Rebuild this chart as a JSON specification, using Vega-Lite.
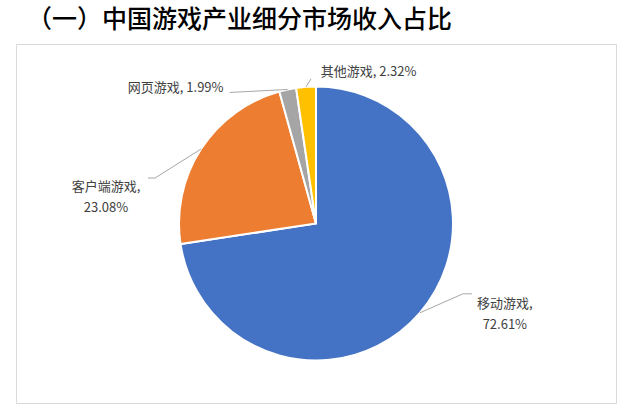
{
  "$schema": "https://vega.github.io/schema/vega-lite/v6.json",
  "width": 600,
  "height": 359,
  "autosize": {"type": "none"},
  "padding": {"left": 16, "top": 44, "right": 14, "bottom": 14},
  "background": "white",
  "config": {"view": {"stroke": "#d9d9d9", "strokeWidth": 1}, "font": "Noto Sans CJK SC"},
  "title": {
    "text": "（一）中国游戏产业细分市场收入占比",
    "anchor": "start",
    "frame": "group",
    "fontSize": 25,
    "fontWeight": 500,
    "color": "#000000",
    "font": "Noto Sans CJK SC",
    "offset": 13,
    "baseline": "alphabetic",
    "dx": 11,
    "dy": 22
  },
  "data": {
    "values": [
      {"cat": "移动游戏", "value": 72.61, "order": 1},
      {"cat": "客户端游戏", "value": 23.08, "order": 2},
      {"cat": "网页游戏", "value": 1.99, "order": 3},
      {"cat": "其他游戏", "value": 2.32, "order": 4}
    ]
  },
  "transform": [
    {"joinaggregate": [{"op": "sum", "field": "value", "as": "total"}]},
    {"window": [{"op": "sum", "field": "value", "as": "cum"}], "sort": [{"field": "order"}], "frame": [null, 0]},
    {"calculate": "(datum.cum - datum.value / 2) / datum.total * 2 * PI", "as": "mid"},
    {"calculate": "137 * sin(datum.mid)", "as": "sx"},
    {"calculate": "-137 * cos(datum.mid)", "as": "sy"},
    {"calculate": "datum.sx + (datum.cat === '移动游戏' ? 43 : datum.cat === '客户端游戏' ? -46 : datum.cat === '网页游戏' ? -58 : 5)", "as": "ex"},
    {"calculate": "datum.sy + (datum.cat === '移动游戏' ? -19 : datum.cat === '客户端游戏' ? 29 : datum.cat === '网页游戏' ? 3 : -8)", "as": "ey"},
    {"calculate": "datum.ex + (datum.cat === '移动游戏' ? 9 : datum.cat === '客户端游戏' ? -7 : 0)", "as": "fx"},
    {"calculate": "datum.sx + (datum.cat === '移动游戏' ? 85 : datum.cat === '客户端游戏' ? -95 : datum.cat === '网页游戏' ? -112 : 62.5)", "as": "lx"},
    {"calculate": "datum.sy + (datum.cat === '移动游戏' ? -9.3 : datum.cat === '客户端游戏' ? 37.5 : datum.cat === '网页游戏' ? -1 : -14.4)", "as": "ly"},
    {"calculate": "datum.order <= 2 ? [datum.cat + ',', format(datum.value, '.2f') + '%'] : datum.cat + ', ' + format(datum.value, '.2f') + '%'", "as": "lab"}
  ],
  "layer": [
    {
      "mark": {"type": "arc", "outerRadius": 137, "stroke": "white", "strokeWidth": 2},
      "encoding": {
        "theta": {"field": "value", "type": "quantitative", "stack": true},
        "order": {"field": "order", "type": "quantitative"},
        "color": {
          "field": "cat",
          "type": "nominal",
          "scale": {
            "domain": ["移动游戏", "客户端游戏", "网页游戏", "其他游戏"],
            "range": ["#4472C4", "#ED7D31", "#A5A5A5", "#FFC000"]
          },
          "legend": null
        }
      }
    },
    {
      "mark": {"type": "rule", "color": "#a6a6a6", "strokeWidth": 1},
      "encoding": {
        "x": {"field": "sx", "type": "quantitative", "scale": {"domain": [-300, 300], "nice": false, "zero": false}, "axis": null},
        "y": {"field": "sy", "type": "quantitative", "scale": {"domain": [-179.5, 179.5], "nice": false, "zero": false, "reverse": true}, "axis": null},
        "x2": {"field": "ex"},
        "y2": {"field": "ey"}
      }
    },
    {
      "mark": {"type": "rule", "color": "#a6a6a6", "strokeWidth": 1},
      "encoding": {
        "x": {"field": "ex", "type": "quantitative", "scale": {"domain": [-300, 300], "nice": false, "zero": false}, "axis": null},
        "y": {"field": "ey", "type": "quantitative", "scale": {"domain": [-179.5, 179.5], "nice": false, "zero": false, "reverse": true}, "axis": null},
        "x2": {"field": "fx"}
      }
    },
    {
      "mark": {"type": "text", "align": "center", "baseline": "middle", "fontSize": 13, "lineHeight": 21, "color": "#404040", "font": "Noto Sans CJK SC"},
      "encoding": {
        "x": {"field": "lx", "type": "quantitative", "scale": {"domain": [-300, 300], "nice": false, "zero": false}, "axis": null},
        "y": {"field": "ly", "type": "quantitative", "scale": {"domain": [-179.5, 179.5], "nice": false, "zero": false, "reverse": true}, "axis": null},
        "text": {"field": "lab", "type": "nominal"}
      }
    }
  ]
}
